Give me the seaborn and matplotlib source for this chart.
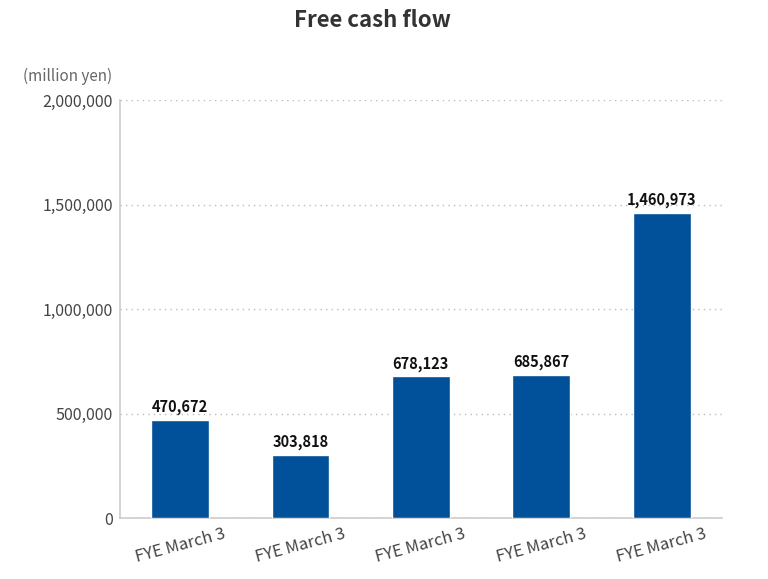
import numpy as np
import pandas as pd
import matplotlib
matplotlib.use('Agg')
import matplotlib.pyplot as plt
import matplotlib.transforms as mtransforms
import seaborn as sns

categories = ['FYE March 3', 'FYE March 3 ', 'FYE March 3  ', 'FYE March 3   ', 'FYE March 3    ']
values = [470672, 303818, 678123, 685867, 1460973]
yticks = [0, 500000, 1000000, 1500000, 2000000]

sns.set_style('white')
plt.rcParams['font.family'] = ['Noto Sans CJK JP', 'DejaVu Sans']

df = pd.DataFrame({'period': categories, 'fcf': values})

fig = plt.figure(figsize=(7.68, 5.79), dpi=100)
ax = fig.add_axes([0.156, 0.105, 0.784, 0.722])

sns.barplot(data=df, x='period', y='fcf', color='#00509A', width=0.48,
            saturation=1, ax=ax, zorder=3)

ax.set_xlim(-0.5, 4.5)
ax.set_ylim(0, 2000000)
ax.set_yticks(yticks)
ax.set_yticklabels([f'{v:,}' for v in yticks], fontsize=11.5, color='#444444')
ax.set_xticks(range(len(categories)))
ax.set_xticklabels([c.strip() for c in categories], rotation=15, fontsize=12,
                   color='#444444', ha='center')
# labels sit a bit left of the bar centres in the original
shift = mtransforms.ScaledTranslation(-7 / 100, -2 / 100, fig.dpi_scale_trans)
for lbl in ax.get_xticklabels():
    lbl.set_transform(lbl.get_transform() + shift)
ax.yaxis.grid(True, linestyle=(0, (1, 3)), color='#bbbbbb', linewidth=1)
ax.set_axisbelow(True)
ax.tick_params(axis='both', length=0, pad=5)
ax.set_xlabel('')
ax.set_ylabel('')

for s in ['top', 'right']:
    ax.spines[s].set_visible(False)
ax.spines['left'].set_color('#cccccc')
ax.spines['bottom'].set_color('#cccccc')
ax.spines['left'].set_linewidth(1.2)
ax.spines['bottom'].set_linewidth(1.2)

for i, v in enumerate(values):
    ax.text(i, v + 22000, f'{v:,}', ha='center', va='bottom', fontsize=10.5,
            fontweight='bold', color='#111111')

fig.text(0.485, 0.965, 'Free cash flow', ha='center', va='center', fontsize=16,
         fontweight='bold', color='#333333')
fig.text(0.03, 0.868, '(million yen)', ha='left', va='center', fontsize=11,
         color='#666666')

fig.savefig('out.png', dpi=100)
